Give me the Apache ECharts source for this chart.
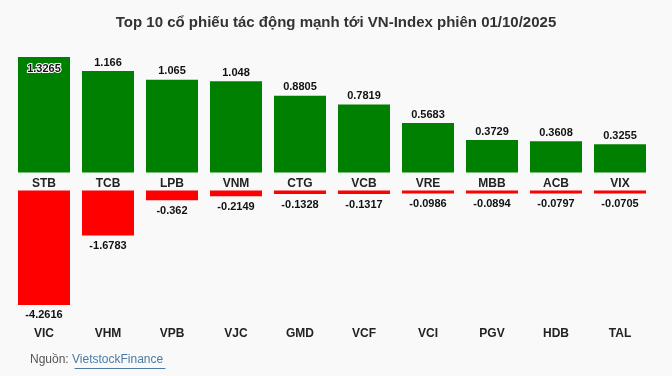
<!DOCTYPE html>
<html>
<head>
<meta charset="utf-8">
<script src="https://cdn.jsdelivr.net/npm/echarts@6/dist/echarts.min.js"></script>
<style>
  html, body { margin: 0; padding: 0; background: #f9f9f9; }
  #chart { width: 672px; height: 376px; }
</style>
</head>
<body>
<div id="chart"></div>
<script>
// co phieu keo tang
const upNames = ['STB', 'TCB', 'LPB', 'VNM', 'CTG', 'VCB', 'VRE', 'MBB', 'ACB', 'VIX'];
const upValues = [1.3265, 1.166, 1.065, 1.048, 0.8805, 0.7819, 0.5683, 0.3729, 0.3608, 0.3255];
// co phieu keo giam
const downNames = ['VIC', 'VHM', 'VPB', 'VJC', 'GMD', 'VCF', 'VCI', 'PGV', 'HDB', 'TAL'];
const downValues = [-4.2616, -1.6783, -0.362, -0.2149, -0.1328, -0.1317, -0.0986, -0.0894, -0.0797, -0.0705];

const font = 'Arial, "Liberation Sans", sans-serif';

const chart = echarts.init(document.getElementById('chart'));

const option = {
    backgroundColor: '#f9f9f9',
    animation: false,
    title: {
        text: 'Top 10 cổ phiếu tác động mạnh tới VN-Index phiên 01/10/2025',
        left: 'center',
        top: 10,
        textStyle: { fontFamily: font, fontSize: 15, fontWeight: 'bold', color: '#333' }
    },
    grid: [
        { left: 12, right: 20, top: 50.6, height: 122 },
        { left: 12, right: 20, top: 190.5, height: 134.25 }
    ],
    xAxis: [
        {
            type: 'category', gridIndex: 0, data: upNames,
            axisLine: { show: false }, axisTick: { show: false },
            axisLabel: { margin: 5, fontFamily: font, fontSize: 12, fontWeight: 'bold', color: '#222' }
        },
        {
            type: 'category', gridIndex: 1, data: downNames,
            axisLine: { show: false }, axisTick: { show: false },
            axisLabel: { margin: 3, fontFamily: font, fontSize: 12, fontWeight: 'bold', color: '#222' }
        }
    ],
    yAxis: [
        { type: 'value', gridIndex: 0, min: 0, max: 1.4, show: false },
        { type: 'value', gridIndex: 1, min: -5, max: 0, show: false }
    ],
    series: [
        {
            type: 'bar', xAxisIndex: 0, yAxisIndex: 0,
            barWidth: 52,
            itemStyle: { color: '#008000' },
            label: {
                show: true, position: 'top', distance: 3,
                fontFamily: font, fontSize: 11, fontWeight: 'bold', color: '#111'
            },
            data: upValues.map((v, i) => i === 0 ? {
                value: v,
                // gia tri lon nhat nam trong cot
                label: { position: 'insideTop', distance: 6, textBorderColor: '#fff', textBorderWidth: 2 }
            } : v)
        },
        {
            type: 'bar', xAxisIndex: 1, yAxisIndex: 1,
            barWidth: 52,
            barMinHeight: 3,
            itemStyle: { color: '#ff0000' },
            label: {
                show: true, position: 'bottom', distance: 5,
                fontFamily: font, fontSize: 11, fontWeight: 'bold', color: '#111'
            },
            data: downValues
        }
    ],
    graphic: [
        {
            type: 'text', left: 30, top: 354,
            style: { text: 'Nguồn:', font: '12px ' + font, fill: '#555' }
        },
        {
            type: 'text', left: 72, top: 354,
            style: { text: 'VietstockFinance', font: '12px ' + font, fill: '#4a7ba7' }
        },
        {
            type: 'line', left: 72, top: 366,
            shape: { x1: 0, y1: 0, x2: 91, y2: 0 },
            style: { stroke: '#4a7ba7', lineWidth: 1 }
        }
    ]
};

chart.setOption(option);
</script>
</body>
</html>
